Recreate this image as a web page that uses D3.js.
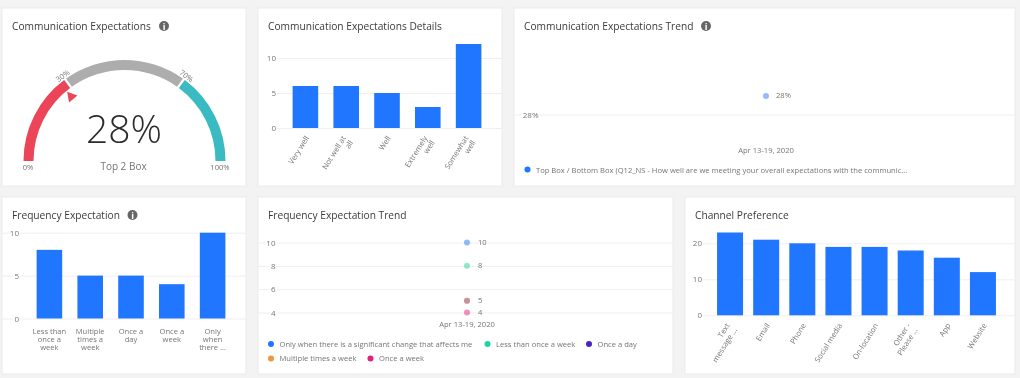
<!DOCTYPE html>
<html><head><meta charset="utf-8">
<script src="https://cdn.jsdelivr.net/npm/d3@7/dist/d3.min.js"></script>
<style>
html,body{margin:0;padding:0;background:#f3f3f3;overflow:hidden}
svg{display:block;font-family:"Open Sans",sans-serif;filter:blur(0.3px)}
text{fill:#757575}
.title{font-size:10.2px;fill:#3a3a3a}
.domain{display:none}
</style></head><body>
<svg id="c" width="1020" height="378"></svg>
<script>
// ---- data ----
const gaugeValue = 28;
const gaugeBands = [[0,30],[30,70],[70,100]];
const gaugeTicks = [0,30,70,100];
const detailCats = [["Very well"],["Not well at","all"],["Well"],["Extremely","well"],["Somewhat","well"]];
const detailVals = [6,6,5,3,12];
const detailTicks = [0,5,10];
const trendPeriods = ["Apr 13-19, 2020"];
const commTrendVals = [28];
const commLegend = "Top Box / Bottom Box (Q12_NS - How well are we meeting your overall expectations with the communic...";
const freqCats = [["Less than","once a","week"],["Multiple","times a","week"],["Once a","day"],["Once a","week"],["Only","when","there ..."]];
const freqVals = [8,5,5,4,10];
const freqTicks = [0,5,10];
const freqSeries = ["Only when there is a significant change that affects me","Less than once a week","Once a day","Multiple times a week","Once a week"];
const freqSeriesVals = [10,8,5,5,4];
const freqTrendTicks = [4,6,8,10];
const channelCats = [["Text","message ..."],["Email"],["Phone"],["Social media"],["On-location"],["Other -","Please ..."],["App"],["Website"]];
const channelVals = [23,21,20,19,19,18,16,12];
const channelTicks = [0,10,20];

// ---- style ----
const BLUE="#2176ff", GRID="#efefef", FS=7.6;
const seriesColors=["#2176ff","#1fd3a4","#4b22c4","#f0953f","#e61f78"];
const svg=d3.select("#c");

function panel(x,y,w,h,title,info,infoX){
  svg.append("rect").attr("x",x).attr("y",y).attr("width",w).attr("height",h)
    .attr("fill","#fff").attr("stroke","#ebebeb").attr("stroke-width",1);
  svg.append("text").attr("class","title").attr("x",x+10).attr("y",y+21.5).text(title);
  if(info){
    svg.append("circle").attr("cx",infoX).attr("cy",y+18).attr("r",5).attr("fill","#666");
    svg.append("text").attr("x",infoX).attr("y",y+21.5).attr("text-anchor","middle")
      .attr("font-size",9).attr("font-weight",700).style("fill","#fff").text("i");
  }
}
function yAxis(scale,ticks,xRight,gridL,gridR,fmt){
  const g=svg.append("g").attr("transform",`translate(${xRight},0)`)
    .call(d3.axisLeft(scale).tickValues(ticks).tickSize(0).tickPadding(0).tickFormat(fmt||(d=>d)));
  g.selectAll(".tick line").attr("x1",gridL-xRight).attr("x2",gridR-xRight).attr("stroke",GRID);
  g.selectAll(".tick text").attr("font-size",FS+.4).attr("font-family","Open Sans")
    .attr("paint-order","stroke").attr("stroke","#fff").attr("stroke-width",3).style("fill","#757575");
  return g;
}
function xLabels(scale,y,rotated){
  const g=svg.append("g").attr("transform",`translate(0,${y})`)
    .call(d3.axisBottom(scale).tickSize(0).tickPadding(0).tickFormat(""));
  g.selectAll(".tick").each(function(d){
    const t=d3.select(this).select("text").text(null).attr("font-size",FS)
      .attr("font-family","Open Sans").style("fill","#757575");
    const lines=d;
    if(rotated){
      const dx=lines.length>1?0:4;
      t.attr("text-anchor","end").attr("y",0).attr("dy",0)
       .attr("transform",`translate(${dx},10) rotate(-58)`);
      lines.forEach((l,i)=>t.append("tspan").attr("x",0).attr("y",i*8.5).text(l));
    }else{
      t.attr("text-anchor","middle").attr("y",0).attr("dy",0);
      lines.forEach((l,i)=>t.append("tspan").attr("x",0).attr("y",15.2+i*8.2).text(l));
    }
  });
}
function bars(cfg){
  const x=d3.scaleBand().domain(cfg.cats).range(cfg.xr).paddingInner(cfg.pad).paddingOuter(cfg.pad/2);
  const y=d3.scaleLinear().domain(cfg.dom).range(cfg.yr);
  yAxis(y,cfg.ticks,cfg.tickX,cfg.gridL,cfg.gridR);
  svg.append("g").selectAll("rect").data(cfg.vals).join("rect")
    .attr("x",(d,i)=>x(cfg.cats[i])).attr("width",x.bandwidth())
    .attr("y",d=>y(d)).attr("height",d=>y(0)-y(d))
    .attr("fill",BLUE);
  xLabels(x,cfg.yr[0],cfg.rot);
}

// panels
panel(2,8,244,178,"Communication Expectations",true,164);
panel(258,8,244,178,"Communication Expectations Details");
panel(514,8,501,178,"Communication Expectations Trend",true,706);
panel(2,197,244,177,"Frequency Expectation",true,132.5);
panel(258,197,415,177,"Frequency Expectation Trend");
panel(685,197,330,177,"Channel Preference");

// gauge
const cx=124.5, cy=161, R=101, r=91;
const ang=d3.scaleLinear().domain([0,100]).range([-Math.PI/2,Math.PI/2]);
const arc=d3.arc().innerRadius(r).outerRadius(R);
const gcolors=["#ec4459","#adadad","#3abbc1"];
const gg=svg.append("g").attr("transform",`translate(${cx},${cy})`);
gg.selectAll("path.b").data(gaugeBands).join("path").attr("class","b")
  .attr("d",(d,i)=>arc({startAngle:ang(d[0])+(i?0.012:0),endAngle:ang(d[1])-(i<2?0.012:0)}))
  .attr("fill",(d,i)=>gcolors[i]);
const a=ang(gaugeValue);
gg.append("path").attr("d","M0,0L-5.4,9.6L5.4,9.6Z").attr("fill","#ec4459")
  .attr("transform",`rotate(${a*180/Math.PI}) translate(0,${-r+1})`);
gaugeTicks.forEach(t=>{
  if(t===0||t===100){
    gg.append("text").attr("x",t?95.5:-96.5).attr("y",9).attr("text-anchor","middle").attr("font-size",FS).text(t+"%");
  }else{
    const deg=ang(t)*180/Math.PI;
    gg.append("text").attr("text-anchor","middle").attr("font-size",FS)
      .attr("transform",`rotate(${deg}) translate(0,${-R-1.5})`).text(t+"%");
  }
});
gg.append("text").attr("x",-0.5).attr("y",-18).attr("text-anchor","middle").attr("font-size",39)
  .attr("font-weight",300).style("fill","#2b2b2b").text(gaugeValue+"%");
gg.append("text").attr("x",-1).attr("y",9).attr("text-anchor","middle").attr("font-size",10).text("Top 2 Box");

// details
bars({cats:detailCats,vals:detailVals,xr:[285,489],pad:0.373,dom:[0,12],yr:[128,44],ticks:detailTicks,tickX:276,gridL:277,gridR:502,rot:true});

// comm trend
(function(){
  const x=d3.scalePoint().domain(trendPeriods).range([766,766]);
  const y=d3.scaleLinear().domain([28,28.5]).range([114.5,96]);
  yAxis(y,[28],538.5,514,1015,d=>d+"%");
  svg.append("g").selectAll("circle").data(commTrendVals).join("circle")
    .attr("cx",x(trendPeriods[0])).attr("cy",96).attr("r",3).attr("fill",BLUE).attr("opacity",.5);
  svg.append("text").attr("x",776).attr("y",98).attr("font-size",FS).text(commTrendVals[0]+"%");
  svg.append("text").attr("x",766).attr("y",152.5).attr("text-anchor","middle").attr("font-size",FS).text(trendPeriods[0]);
  svg.append("circle").attr("cx",527.5).attr("cy",169.5).attr("r",3).attr("fill",BLUE);
  svg.append("text").attr("x",536).attr("y",172.5).attr("font-size",FS).text(commLegend);
})();

// freq
bars({cats:freqCats,vals:freqVals,xr:[29,233],pad:0.373,dom:[0,10],yr:[318.5,232.7],ticks:freqTicks,tickX:19,gridL:2,gridR:246,rot:false});

// freq trend
(function(){
  const x=d3.scalePoint().domain(trendPeriods).range([467,467]);
  const y=d3.scaleLinear().domain([4,10]).range([312.5,242.5]);
  yAxis(y,freqTrendTicks,275.5,258,673);
  const g=svg.append("g");
  g.selectAll("circle").data(freqSeriesVals).join("circle")
    .attr("cx",x(trendPeriods[0])).attr("cy",d=>y(d)).attr("r",3)
    .attr("fill",(d,i)=>seriesColors[i]).attr("opacity",.5);
  [...new Set(freqSeriesVals)].forEach(v=>{
    svg.append("text").attr("x",478).attr("y",y(v)+2).attr("font-size",FS).text(v);
  });
  svg.append("text").attr("x",467).attr("y",327).attr("text-anchor","middle").attr("font-size",FS).text(trendPeriods[0]);
  const pos=[[271,344],[487.5,344],[589,344],[271,358.5],[370.5,358.5]];
  freqSeries.forEach((s,i)=>{
    svg.append("circle").attr("cx",pos[i][0]).attr("cy",pos[i][1]).attr("r",3).attr("fill",seriesColors[i]);
    svg.append("text").attr("x",pos[i][0]+8.5).attr("y",pos[i][1]+2.8).attr("font-size",FS).text(s);
  });
})();

// channel
bars({cats:channelCats,vals:channelVals,xr:[712,1001],pad:0.28,dom:[0,23],yr:[315.3,232.5],ticks:channelTicks,tickX:702,gridL:703,gridR:1015,rot:true});
</script>
</body></html>
